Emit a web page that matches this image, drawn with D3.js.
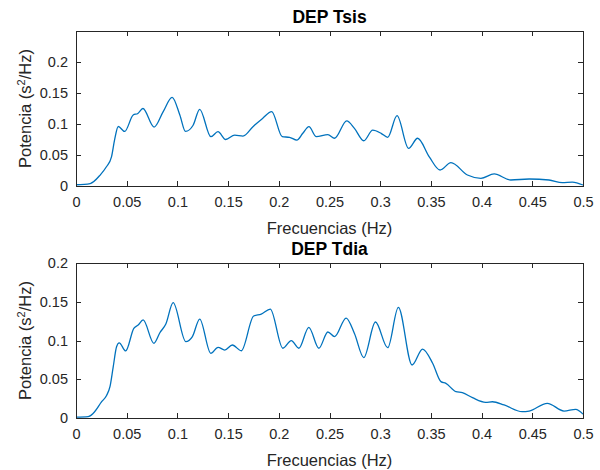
<!doctype html>
<html lang="es">
<head>
<meta charset="utf-8">
<title>DEP Tsis / Tdia</title>
<script src="https://cdn.jsdelivr.net/npm/d3@7"></script>
<style>
  body { margin: 0; background: #fff; }
  svg { display: block; font-family: "Liberation Sans", Arial, Helvetica, sans-serif; }
  .tick-label { font-size: 14.5px; fill: #262626; }
  .axis-label { font-size: 16.5px; fill: #262626; }
  .title { font-size: 17.5px; font-weight: bold; fill: #000; }
</style>
</head>
<body>
<svg width="600" height="470"></svg>
<script>
  // frequency ticks shared by both panels
  const xTicks = [0, 0.05, 0.1, 0.15, 0.2, 0.25, 0.3, 0.35, 0.4, 0.45, 0.5];
  const yTicksTsis = [0, 0.05, 0.1, 0.15, 0.2];
  const yTicksTdia = [0, 0.05, 0.1, 0.15, 0.2];

  // DEP Tsis
  const freqTsis = [
    0, 0.014, 0.024, 0.030, 0.035, 0.038, 0.0417, 0.048, 0.0564, 0.061,
    0.066, 0.077, 0.086, 0.0948, 0.1024, 0.108, 0.1155, 0.122, 0.133,
    0.140, 0.1476, 0.1565, 0.1647, 0.1745, 0.184, 0.193, 0.2034, 0.2106, 0.2178,
    0.2237, 0.2297, 0.237, 0.2484, 0.255, 0.267, 0.2746, 0.2838, 0.2926, 0.3009,
    0.3074, 0.3166, 0.328, 0.3369, 0.3484, 0.359, 0.3698, 0.386, 0.3993, 0.4124,
    0.4288, 0.4469, 0.4665, 0.4796, 0.4895, 0.5
  ];
  const powTsis = [
    0.002, 0.004, 0.018, 0.031, 0.047, 0.074, 0.096, 0.088, 0.1145, 0.117,
    0.125, 0.095, 0.120, 0.143, 0.1145, 0.088, 0.098, 0.1236, 0.0795,
    0.0876, 0.075, 0.082, 0.0806, 0.0957, 0.109, 0.120, 0.0795, 0.0785, 0.074,
    0.085, 0.0957, 0.0795, 0.083, 0.077, 0.105, 0.093, 0.073, 0.090, 0.085,
    0.0785, 0.1134, 0.0607, 0.077, 0.047, 0.0258, 0.0376, 0.0177, 0.0124, 0.0194,
    0.0097, 0.0113, 0.0097, 0.0053, 0.0064, 0.0016
  ];

  // DEP Tdia
  const freqTdia = [
    0, 0.012, 0.017, 0.0253, 0.030, 0.0335, 0.0367, 0.040, 0.0426, 0.049,
    0.057, 0.0613, 0.0662, 0.0768, 0.0827, 0.0886, 0.0958, 0.1083, 0.1148, 0.122,
    0.1329, 0.1401, 0.1467, 0.1542, 0.163, 0.1752, 0.1827, 0.1916, 0.204, 0.2123,
    0.2198, 0.2296, 0.2395, 0.2484, 0.255, 0.2664, 0.2746, 0.2838, 0.2953, 0.3074,
    0.3179, 0.3314, 0.3418, 0.3517, 0.3599, 0.3648, 0.3747, 0.381, 0.391, 0.404,
    0.4107, 0.4222, 0.440, 0.4469, 0.4648, 0.4813, 0.4928, 0.5
  ];
  const powTdia = [
    0.001, 0.0017, 0.006, 0.021, 0.0288, 0.0404, 0.066, 0.092, 0.097, 0.0865,
    0.1157, 0.120, 0.1265, 0.0964, 0.110, 0.1213, 0.1488, 0.0985, 0.105, 0.1277,
    0.0835, 0.0912, 0.0877, 0.0942, 0.0868, 0.1316, 0.134, 0.1406, 0.090, 0.0998,
    0.090, 0.117, 0.090, 0.111, 0.105, 0.129, 0.109, 0.078, 0.1239, 0.0907,
    0.1428, 0.0684, 0.089, 0.0706, 0.0469, 0.0447, 0.034, 0.0327, 0.0262, 0.0202,
    0.021, 0.0168, 0.0081, 0.009, 0.019, 0.009, 0.0112, 0.005
  ];

  const svg = d3.select("svg");
  const left = 76, right = 583;
  const tickLen = 5;
  const axisColor = "#262626";
  const lineColor = "#0072BD";

  function drawPanel(p) {
    const x = d3.scaleLinear().domain([0, 0.5]).range([left, right]);
    const y = d3.scaleLinear().domain([0, p.yMax]).range([p.bottom, p.top]);
    const g = svg.append("g");

    // curve
    const pts = p.freq.map((f, i) => [f, p.pow[i]]);
    g.append("path")
      .datum(pts)
      .attr("fill", "none")
      .attr("stroke", lineColor)
      .attr("stroke-width", 1.3)
      .attr("d", d3.line().x(d => x(d[0])).y(d => y(d[1])).curve(d3.curveMonotoneX));

    // axes: bottom/left with labels, top/right ticks only (box on)
    const fmt = d => d === 0 ? "0" : String(+d.toFixed(2));
    const xb = g.append("g").attr("transform", `translate(0,${p.bottom})`)
      .call(d3.axisBottom(x).tickValues(xTicks).tickSize(-tickLen).tickPadding(11).tickFormat(fmt));
    const xt = g.append("g").attr("transform", `translate(0,${p.top})`)
      .call(d3.axisTop(x).tickValues(xTicks).tickSize(-tickLen).tickFormat(""));
    const yl = g.append("g").attr("transform", `translate(${left},0)`)
      .call(d3.axisLeft(y).tickValues(p.yTicks).tickSize(-tickLen).tickPadding(8).tickFormat(fmt));
    const yr = g.append("g").attr("transform", `translate(${right},0)`)
      .call(d3.axisRight(y).tickValues(p.yTicks).tickSize(-tickLen).tickFormat(""));

    [xb, xt, yl, yr].forEach(a => {
      a.attr("font-family", null).attr("font-size", null);
      a.select(".domain").attr("stroke", axisColor).attr("stroke-width", 1).attr("shape-rendering", "crispEdges");
      a.selectAll(".tick line").attr("stroke", axisColor).attr("shape-rendering", "crispEdges");
      a.selectAll(".tick text").attr("class", "tick-label").attr("fill", null);
    });

    // title
    svg.append("text").attr("class", "title")
      .attr("x", (left + right) / 2).attr("y", p.top - 8)
      .attr("text-anchor", "middle").text(p.title);

    // x label
    svg.append("text").attr("class", "axis-label")
      .attr("x", (left + right) / 2).attr("y", p.bottom + 48)
      .attr("text-anchor", "middle").text("Frecuencias (Hz)");

    // y label with superscript
    const yLab = svg.append("text").attr("class", "axis-label")
      .attr("transform", `translate(31,${(p.top + p.bottom) / 2}) rotate(-90)`)
      .attr("text-anchor", "middle");
    yLab.append("tspan").text("Potencia (s");
    yLab.append("tspan").attr("dy", -6).attr("font-size", "11px").text("2");
    yLab.append("tspan").attr("dy", 6).text("/Hz)");
  }

  drawPanel({ title: "DEP Tsis", top: 31, bottom: 186, yMax: 0.25, yTicks: yTicksTsis, freq: freqTsis, pow: powTsis });
  drawPanel({ title: "DEP Tdia", top: 263, bottom: 418, yMax: 0.2, yTicks: yTicksTdia, freq: freqTdia, pow: powTdia });
</script>
</body>
</html>
